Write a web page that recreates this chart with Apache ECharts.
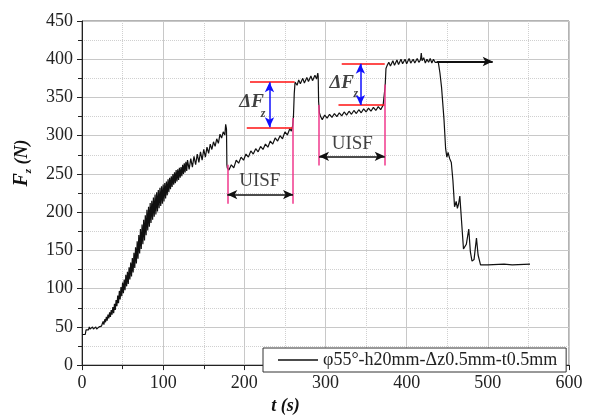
<!DOCTYPE html>
<html lang="en">
<head>
  <meta charset="UTF-8">
  <title>Fz - t</title>
  <style>
    html, body { margin: 0; padding: 0; background: #fff; }
    #myEcharts { width: 590px; height: 420px; }
  </style>
  <script src="https://cdn.jsdelivr.net/npm/echarts@6/dist/echarts.min.js"></script>
</head>
<body>
<div id="myEcharts"></div>
<script>
  // force trace, [t (s), Fz (N)]
  var startPhase = [[0,40],[2,39],[4,40],[5,46],[6,44],[7,48],[8,46],[9,50],[10,47],[11,49],[12,46],[13,50],[14,47],[15,49],[16,47],[17,50],[18,47],[19,49],[20,48],[21,50],[22,49],[23,52],[24,51],[25,54]];
  var risePhase = [[26,57],[27,53],[28,60],[29,56],[30,63],[31,58],[32,66],[33,61],[34,69],[35,63],[36,72],[37,66],[38,76],[39,68],[40,80],[41,72],[42,85],[43,77],[44,91],[45,81],[46,97],[47,86],[48,102],[49,90],[50,108],[51,94],[52,112],[53,98],[54,118],[55,103],[56,122],[57,106],[58,128],[59,112],[60,134],[61,116],[62,140],[63,121],[64,147],[65,127],[66,154],[67,133],[68,162],[69,139],[70,170],[71,146],[72,178],[73,152],[74,184],[75,158],[76,190],[77,163],[78,196],[79,170],[80,203],[81,176],[82,207],[83,181],[84,212],[85,186],[86,215],[87,190],[88,219],[89,194],[90,223],[91,197],[92,226],[93,201],[94,229],[95,205],[96,232],[97,208],[98,234],[99,211],[100,236],[101,214],[102,238],[103,218],[104,240],[105,222],[106,243],[107,226],[108,245],[109,230],[110,247],[111,233],[112,250],[113,236],[114,252],[115,238],[116,255],[117,240],[118,256],[119,242],[120,258]];
  var feedPhase = [[121,245],[122,259],[123,247],[124,262],[125,250],[126,264],[127,252],[128,266],[129,254],[130,268],[132,256],[134,270],[136,259],[138,273],[140,262],[142,276],[144,265],[146,279],[148,268],[150,282],[152,272],[154,285],[156,277],[158,289],[160,282],[162,292],[164,286],[166,296],[168,290],[170,302],[172,297],[174,305],[176,301],[177,315],[178,309],[178.5,262],[179,258]];
  var uisf1Phase = [[181,255],[184,262],[187,258],[190,268],[193,264],[196,272],[199,268],[202,276],[205,272],[208,280],[211,276],[214,283],[217,279],[220,286],[223,282],[226,289],[229,285],[232,293],[235,289],[238,297],[241,293],[244,300],[247,296],[250,305],[253,301],[256,309],[258,306],[259.5,313],[260.5,325],[261.5,355],[262.5,370]];
  var step1Phase = [[265,366],[267,373],[269,368],[272,375],[274,369],[277,376],[279,371],[282,378],[284,372],[287,379],[289,374],[290.5,382],[291,378],[291.5,345],[292.5,330],[294,325]];
  var uisf2Phase = [[296,321],[299,327],[302,323],[305,328],[308,324],[311,329],[314,325],[317,330],[320,326],[323,331],[326,327],[329,332],[332,328],[335,333],[338,329],[341,334],[344,330],[347,335],[350,331],[353,336],[356,332],[359,337],[362,333],[365,338],[368,334],[371,340],[372.5,341],[373.5,365],[374.5,388],[376,392]];
  var dwellPhase = [[378,396],[380,391],[383,398],[385,392],[388,399],[390,393],[393,400],[395,394],[398,400],[400,394],[403,401],[405,395],[408,400],[410,395],[413,401],[415,396],[417,399],[418,408],[419,398],[421,402],[423,395],[425,400],[427,396],[429,401],[431,395],[433,400],[435,396],[437,398]];
  var fallPhase = [[439,396],[441,382],[443,363],[446,321],[448,283],[449.5,272],[451,278],[453,270],[455,265],[457,241],[459,207],[461,214],[462.5,205],[464,211],[465.5,221],[467.5,190],[470,152],[472,150],[473.5,158],[476.5,178],[478.5,148],[480.5,136],[483,138],[486,166],[488,144],[491,131],[500,131],[520,132],[530,131],[552,132]];

  // annotations (data coordinates)
  var redLines = [[[203,311],[259,311]], [[207,370.5],[262,370.5]], [[316,340],[373,340]], [[320,394],[373,394]]];
  var pinkLines = [[[179,211],[179,262]], [[260,211],[260,323]], [[292,261],[292,340]], [[373,261],[373,367]]];
  var blueArrows = [[[231,370],[231,311]], [[343,394],[343,340]]];
  var uisfArrows = [[[179,223],[260,223]], [[292,273],[373,273]]];
  var holdArrow = [[[437,397],[506,397]]];
  var uisfText = [[219,241],[333,289.5]];
  var deltaText = [[209,344],[320,369]];
  var subText = [[223,329],[337.5,354.5]];

  var seriesName = 'φ55°-h20mm-Δz0.5mm-t0.5mm';
  var serif = "'Liberation Serif', 'Times New Roman', serif";

  var trace = [].concat(startPhase, risePhase, feedPhase, uisf1Phase, step1Phase, uisf2Phase, dwellPhase, fallPhase);

  function segs(list) {
    return list.map(function (s) { return [{ coord: s[0] }, { coord: s[1] }]; });
  }

  function marks(name, list, color, width, sym) {
    return {
      name: name,
      type: 'line',
      data: [],
      silent: true,
      markLine: {
        silent: true,
        animation: false,
        symbol: sym,
        symbolSize: [7, 10],
        label: { show: false },
        lineStyle: { color: color, width: width, type: 'solid' },
        emphasis: { disabled: true },
        data: segs(list)
      }
    };
  }

  function textMarks(name, list, txt, style) {
    return {
      name: name,
      type: 'scatter',
      symbolSize: 1,
      silent: true,
      itemStyle: { color: 'rgba(0,0,0,0)' },
      label: Object.assign({
        show: true,
        position: 'inside',
        formatter: txt,
        color: '#111',
        fontFamily: serif
      }, style),
      data: list
    };
  }

  var myChart = echarts.init(document.getElementById('myEcharts'));
  var option = {
    animation: false,
    grid: { left: 82, right: 21, top: 21, bottom: 43, show: true, borderColor: '#666', borderWidth: 1 },
    legend: {
      data: [seriesName],
      left: 263,
      top: 348,
      padding: [3, 9, 3, 15],
      icon: 'rect',
      itemWidth: 40,
      itemHeight: 1.3,
      borderColor: '#333',
      borderWidth: 1,
      backgroundColor: '#fff',
      textStyle: { fontFamily: serif, fontSize: 18, color: '#222' }
    },
    xAxis: {
      type: 'value',
      min: 0, max: 600, interval: 100,
      name: 't (s)',
      nameLocation: 'middle',
      nameGap: 24,
      nameTextStyle: { fontFamily: serif, fontSize: 18, fontStyle: 'italic', fontWeight: 'bold', color: '#111', padding: [0, 80, 0, 0] },
      axisLine: { lineStyle: { color: '#222' } },
      axisTick: { inside: false, length: 5, lineStyle: { color: '#222' } },
      minorTick: { show: true, splitNumber: 2, length: 4, lineStyle: { color: '#222' } },
      axisLabel: { fontFamily: serif, fontSize: 18, color: '#222', margin: 9 },
      splitLine: { show: true, lineStyle: { color: '#c8c8c8', width: 1 } },
      minorSplitLine: { show: true, lineStyle: { color: '#d0d0d0', type: 'dotted' } }
    },
    yAxis: {
      type: 'value',
      min: 0, max: 450, interval: 50,
      name: '{f|F}{z|z}{n| (N)}',
      nameLocation: 'middle',
      nameRotate: 90,
      nameGap: 48,
      nameTextStyle: {
        padding: [0, 0, 0, 60],
        rich: {
          f: { fontFamily: serif, fontSize: 20, fontStyle: 'italic', fontWeight: 'bold', color: '#111', lineHeight: 24, verticalAlign: 'middle' },
          z: { fontFamily: serif, fontSize: 11, fontStyle: 'italic', fontWeight: 'bold', color: '#111', lineHeight: 24, verticalAlign: 'bottom' },
          n: { fontFamily: serif, fontSize: 18, fontStyle: 'italic', fontWeight: 'bold', color: '#111', lineHeight: 24, verticalAlign: 'middle' }
        }
      },
      axisLine: { show: true, lineStyle: { color: '#222' } },
      axisTick: { show: true, inside: false, length: 5, lineStyle: { color: '#222' } },
      minorTick: { show: true, splitNumber: 2, length: 4, lineStyle: { color: '#222' } },
      axisLabel: { fontFamily: serif, fontSize: 18, color: '#222', margin: 9 },
      splitLine: { show: true, lineStyle: { color: '#c8c8c8', width: 1 } },
      minorSplitLine: { show: true, lineStyle: { color: '#d0d0d0', type: 'dotted' } }
    },
    series: [
      {
        name: seriesName,
        type: 'line',
        data: trace,
        symbol: 'none',
        lineStyle: { color: '#111', width: 1.2 },
        itemStyle: { color: '#111' },
        z: 3
      },
      marks('red', redLines, '#ff1010', 1.5, ['none', 'none']),
      marks('pink', pinkLines, '#f0388c', 1.5, ['none', 'none']),
      marks('blue', blueArrows, '#1010ff', 1.5, ['arrow', 'arrow']),
      marks('uisf', uisfArrows, '#111', 1.5, ['arrow', 'arrow']),
      marks('hold', holdArrow, '#111', 1.8, ['none', 'arrow']),
      textMarks('uisfText', uisfText, 'UISF', { fontSize: 19 }),
      textMarks('deltaText', deltaText, 'ΔF', { fontSize: 19, fontStyle: 'italic', fontWeight: 'bold' }),
      textMarks('subText', subText, 'z', { fontSize: 12, fontStyle: 'italic', fontWeight: 'bold' })
    ]
  };
  myChart.setOption(option);
</script>
</body>
</html>
